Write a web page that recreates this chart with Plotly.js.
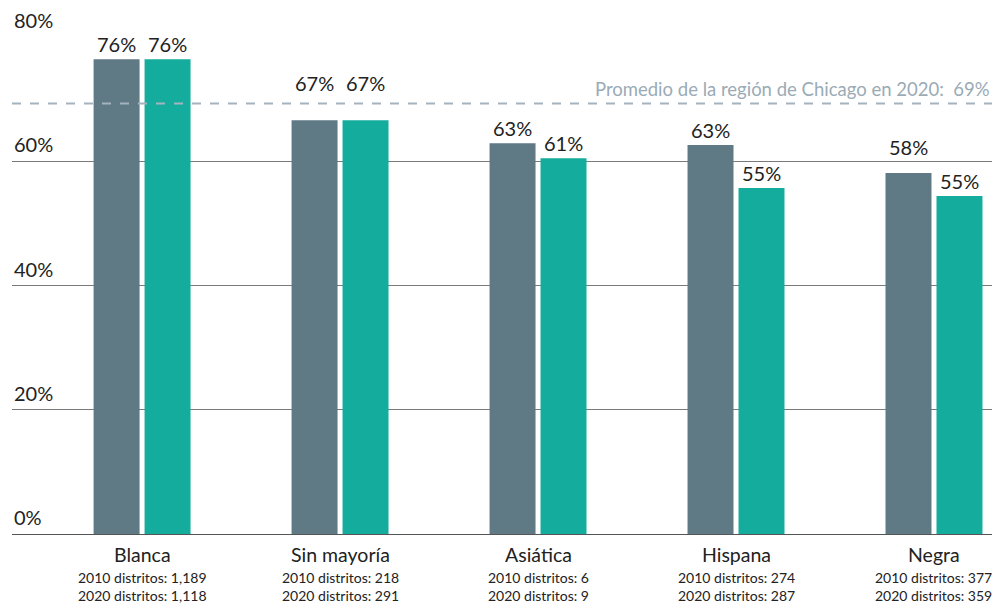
<!DOCTYPE html>
<html>
<head>
<meta charset="utf-8">
<script src="https://cdn.plot.ly/plotly-3.0.1.min.js"></script>
<style>html,body{margin:0;padding:0;background:#fff;}#chart{width:1007px;height:606px;}</style>
</head>
<body>
<div id="chart"></div>
<script>
const categories = ["Blanca", "Sin mayoría", "Asiática", "Hispana", "Negra"];
const values2010 = [76.4, 66.6, 62.9, 62.6, 58.1];
const values2020 = [76.4, 66.6, 60.5, 55.7, 54.4];
const labels2010 = ["76%", "67%", "63%", "63%", "58%"];
const labels2020 = ["76%", "67%", "61%", "55%", "55%"];
const districts2010 = ["1,189", "218", "6", "274", "377"];
const districts2020 = ["1,118", "291", "9", "287", "359"];
const yTicks = [0, 20, 40, 60, 80];
const yTickLabels = ["0%", "20%", "40%", "60%", "80%"];
const average2020 = 69.3;
const averageLabel = "Promedio de la región de Chicago en 2020:  69%";

const FONT = "Lato, 'Open Sans', sans-serif";
const GRAY = "#5f7985";
const TEAL = "#14ac9c";
const xIdx = categories.map((c, i) => i);

const traces = [
  {type: "bar", x: xIdx, y: values2010, marker: {color: GRAY}, hoverinfo: "none"},
  {type: "bar", x: xIdx, y: values2020, marker: {color: TEAL}, hoverinfo: "none"}
];

const annotations = [];
// label lift overrides (px) where labels dodge lines
const lift2010 = [5, 27, 5, 5, 16];
const lift2020 = [5, 27, 5, 5, 5];
const barOffset = 0.1288;
const txt = {family: FONT, size: 20, color: "#222", weight: 400};
xIdx.forEach(i => {
  annotations.push({x: i - barOffset, y: values2010[i], xref: "x", yref: "y", text: labels2010[i],
    showarrow: false, yanchor: "bottom", yshift: lift2010[i] - 4, font: txt});
  annotations.push({x: i + barOffset, y: values2020[i], xref: "x", yref: "y", text: labels2020[i],
    showarrow: false, yanchor: "bottom", yshift: lift2020[i] - 4, font: txt});
  annotations.push({x: i, y: 0, xref: "x", yref: "y", text: categories[i], showarrow: false,
    yanchor: "top", yshift: -7, font: {family: FONT, size: 19.5, color: "#222", weight: 400}});
  annotations.push({x: i, y: 0, xref: "x", yref: "y",
    text: "2010 distritos: " + districts2010[i] + "<br>2020 distritos: " + districts2020[i],
    showarrow: false, yanchor: "top", yshift: -33, font: {family: FONT, size: 14, color: "#222", weight: 400}});
});
yTicks.forEach((t, i) => {
  annotations.push({x: 0, xref: "paper", xanchor: "left", y: t, yref: "y", yanchor: "bottom", yshift: 3,
    text: yTickLabels[i], showarrow: false, font: txt});
});
annotations.push({x: 1, xref: "paper", xanchor: "right", y: average2020, yref: "y", yanchor: "bottom", yshift: 1,
  text: averageLabel, showarrow: false, font: {family: FONT, size: 18.5, color: "#9aabb6", weight: 400}});

const layout = {
  width: 1007, height: 606,
  margin: {l: 12, r: 15, t: 37, b: 72},
  paper_bgcolor: "#fff", plot_bgcolor: "#fff",
  showlegend: false,
  barmode: "group", bargap: 0.485, bargroupgap: 0.098,
  xaxis: {range: [-0.657, 4.293], showticklabels: false, showgrid: false, zeroline: false, ticks: "", fixedrange: true},
  yaxis: {range: [0, 80], tickvals: yTicks, showticklabels: false, showgrid: true, gridcolor: "#7a7a7a", gridwidth: 1,
    zeroline: true, zerolinecolor: "#555", zerolinewidth: 1, fixedrange: true},
  shapes: [{type: "line", xref: "paper", x0: 0, x1: 1, yref: "y", y0: average2020, y1: average2020,
    line: {color: "#a3b4be", width: 2, dash: "dash"}, layer: "above"}],
  annotations: annotations,
  font: {family: FONT}
};

Plotly.newPlot("chart", traces, layout, {displayModeBar: false, staticPlot: true});
</script>
</body>
</html>
